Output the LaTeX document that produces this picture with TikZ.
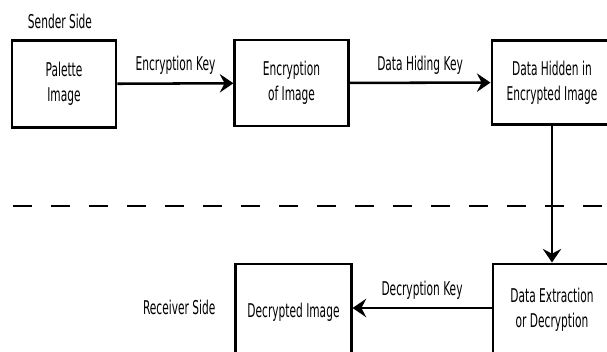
\documentclass[tikz,border=0pt]{standalone}
\usepackage{fontspec}
\setmainfont{DejaVu Sans}[FakeStretch=0.56]
\usetikzlibrary{arrows.meta,positioning}

\begin{document}
\begin{tikzpicture}[
    x=0.025cm, y=-0.025cm,
    procbox/.style={draw, line width=2.1pt, align=center, font=\fontsize{13.5}{18}\selectfont, inner sep=2pt},
    keylabel/.style={font=\fontsize{13.5}{15}\selectfont, above=2pt},
    sidelabel/.style={font=\fontsize{13.5}{15}\selectfont},
    flow/.style={line width=1.8pt, -{Stealth[length=3.4mm, width=4.6mm, inset=1.2mm]}}
]
\useasboundingbox (0,0) rectangle (607,352);
\clip (0,0) rectangle (607,352);

% Sender side
\node[sidelabel] (sender) at (60,21) {Sender Side};
\node[procbox, minimum width=2.6cm, minimum height=2.17cm] (palette) at (64,84) {Palette\\Image};
\node[procbox, minimum width=2.83cm, minimum height=2.15cm] (encrypt) at (291.5,83) {Encryption\\of Image};
\node[procbox, minimum width=3cm, minimum height=2.12cm] (hidden) at (552,82.5) {Data Hidden in\\Encrypted Image};

\draw[flow] (palette) -- node[keylabel] {Encryption Key} (encrypt);
\draw[flow] (encrypt) -- node[keylabel] {Data Hiding Key} (hidden);

% Separator
\draw[line width=1.9pt, dash pattern=on 0.48cm off 0.47cm] (13,206) -- (607,206);

% Receiver side
\node[procbox, minimum width=2.95cm, minimum height=2.3cm] (extract) at (552,310) {Data Extraction\\or Decryption};
\node[procbox, minimum width=2.88cm, minimum height=2.4cm] (decrypted) at (293.5,312) {Decrypted Image};
\node[sidelabel, left=10pt of decrypted.west, yshift=3pt] (receiver) {Receiver Side};

\draw[flow] (hidden) -- (extract);
\draw[flow] (extract.west |- 0,308) -- node[keylabel] {Decryption Key} (decrypted.east |- 0,308);

\end{tikzpicture}
\end{document}
